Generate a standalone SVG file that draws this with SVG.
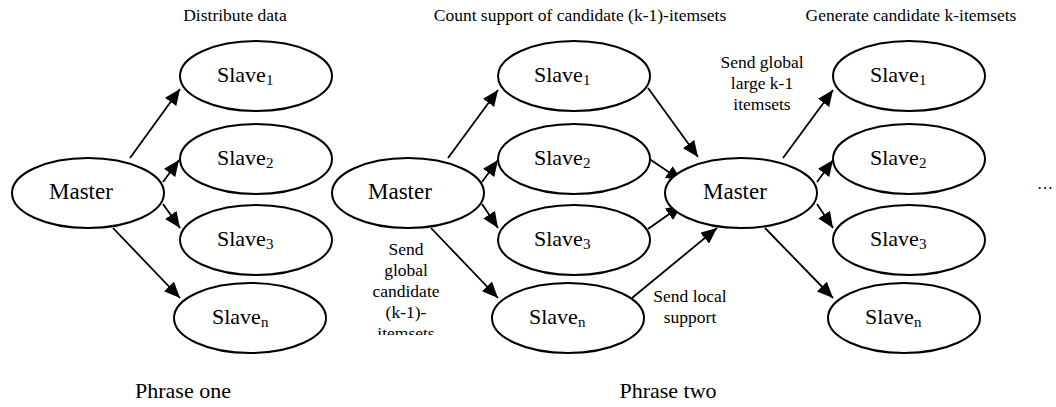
<svg xmlns="http://www.w3.org/2000/svg" width="1056" height="407" viewBox="0 0 1056 407">
<style>
  .node { fill: #fff; stroke: #000; stroke-width: 2; }
  .lbl { font-family: "Liberation Serif", "Times New Roman", serif; fill: #000; }
  .big { font-size: 22px; }
  .mst { font-size: 23px; }
  .sub { font-size: 15px; }
  .small { font-size: 17.5px; }
  .edge { stroke: #000; stroke-width: 1.8; fill: none; marker-end: url(#arr); }
</style>
<defs>
  <marker id="arr" markerUnits="userSpaceOnUse" markerWidth="17" markerHeight="14" refX="16" refY="7" orient="auto">
    <path d="M0,0 L16,7 L0,14 z" fill="#000"/>
  </marker>
  <clipPath id="clipSend"><rect x="340" y="230" width="140" height="105"/></clipPath>
</defs>
<rect width="1056" height="407" fill="#fff"/>

<!-- Headers -->
<text class="lbl small" x="235" y="21" text-anchor="middle">Distribute data</text>
<text class="lbl small" x="580" y="21" text-anchor="middle">Count support of candidate (k-1)-itemsets</text>
<text class="lbl small" x="911" y="21" text-anchor="middle">Generate candidate k-itemsets</text>

<!-- Connectors -->
<g id="connectors">
  <line class="edge" x1="130" y1="158" x2="180" y2="89"/>
  <line class="edge" x1="163" y1="182" x2="179" y2="160"/>
  <line class="edge" x1="163" y1="204" x2="180" y2="228"/>
  <line class="edge" x1="113" y1="228" x2="180" y2="298"/>

  <line class="edge" x1="448" y1="158" x2="498" y2="90"/>
  <line class="edge" x1="482" y1="182" x2="498" y2="160"/>
  <line class="edge" x1="482" y1="204" x2="498" y2="228"/>
  <line class="edge" x1="431" y1="228" x2="498" y2="298"/>

  <line class="edge" x1="648" y1="88" x2="698" y2="157"/>
  <line class="edge" x1="648" y1="158" x2="682" y2="181"/>
  <line class="edge" x1="648" y1="229" x2="682" y2="205"/>
  <line class="edge" x1="632" y1="298" x2="717" y2="228"/>

  <line class="edge" x1="783" y1="158" x2="833" y2="90"/>
  <line class="edge" x1="817" y1="182" x2="833" y2="160"/>
  <line class="edge" x1="817" y1="204" x2="833" y2="228"/>
  <line class="edge" x1="765" y1="228" x2="833" y2="298"/>
</g>

<!-- Phase one -->
<g id="master1"><ellipse class="node" cx="88" cy="193" rx="76" ry="35"/><text class="lbl mst" x="49" y="199">Master</text></g>
<g id="p1slave1"><ellipse class="node" cx="256" cy="76" rx="76" ry="35"/><text class="lbl big" x="217" y="82">Slave<tspan class="sub" dy="3">1</tspan></text></g>
<g id="p1slave2"><ellipse class="node" cx="256" cy="159" rx="76" ry="35"/><text class="lbl big" x="217" y="165">Slave<tspan class="sub" dy="3">2</tspan></text></g>
<g id="p1slave3"><ellipse class="node" cx="256" cy="240" rx="76" ry="35"/><text class="lbl big" x="217" y="246">Slave<tspan class="sub" dy="3">3</tspan></text></g>
<g id="p1slaven"><ellipse class="node" cx="250" cy="318" rx="76" ry="35"/><text class="lbl big" x="212" y="324">Slave<tspan class="sub" dy="3">n</tspan></text></g>

<!-- Phase two -->
<g id="master2"><ellipse class="node" cx="408" cy="193" rx="76" ry="35"/><text class="lbl mst" x="368" y="199">Master</text></g>
<g id="p2slave1"><ellipse class="node" cx="574" cy="76" rx="76" ry="35"/><text class="lbl big" x="534" y="82">Slave<tspan class="sub" dy="3">1</tspan></text></g>
<g id="p2slave2"><ellipse class="node" cx="574" cy="159" rx="76" ry="35"/><text class="lbl big" x="534" y="165">Slave<tspan class="sub" dy="3">2</tspan></text></g>
<g id="p2slave3"><ellipse class="node" cx="574" cy="240" rx="76" ry="35"/><text class="lbl big" x="534" y="246">Slave<tspan class="sub" dy="3">3</tspan></text></g>
<g id="p2slaven"><ellipse class="node" cx="568" cy="318" rx="76" ry="35"/><text class="lbl big" x="529" y="324">Slave<tspan class="sub" dy="3">n</tspan></text></g>

<g id="master3"><ellipse class="node" cx="741" cy="193" rx="76" ry="35"/><text class="lbl mst" x="703" y="199">Master</text></g>
<g id="p3slave1"><ellipse class="node" cx="909" cy="76" rx="76" ry="35"/><text class="lbl big" x="870" y="82">Slave<tspan class="sub" dy="3">1</tspan></text></g>
<g id="p3slave2"><ellipse class="node" cx="909" cy="159" rx="76" ry="35"/><text class="lbl big" x="870" y="165">Slave<tspan class="sub" dy="3">2</tspan></text></g>
<g id="p3slave3"><ellipse class="node" cx="909" cy="240" rx="76" ry="35"/><text class="lbl big" x="870" y="246">Slave<tspan class="sub" dy="3">3</tspan></text></g>
<g id="p3slaven"><ellipse class="node" cx="904" cy="318" rx="76" ry="35"/><text class="lbl big" x="865" y="324">Slave<tspan class="sub" dy="3">n</tspan></text></g>

<!-- Edge labels -->
<g id="lbl-send-global-large">
  <text class="lbl small" text-anchor="middle" x="762" y="68">Send global</text>
  <text class="lbl small" text-anchor="middle" x="762" y="89">large k-1</text>
  <text class="lbl small" text-anchor="middle" x="762" y="110">itemsets</text>
</g>
<g id="lbl-send-global-candidate" clip-path="url(#clipSend)">
  <text class="lbl small" text-anchor="middle" x="406" y="255">Send</text>
  <text class="lbl small" text-anchor="middle" x="406" y="276">global</text>
  <text class="lbl small" text-anchor="middle" x="406" y="297">candidate</text>
  <text class="lbl small" text-anchor="middle" x="406" y="318">(k-1)-</text>
  <text class="lbl small" text-anchor="middle" x="406" y="339">itemsets</text>
</g>
<g id="lbl-send-local">
  <text class="lbl small" text-anchor="middle" x="690" y="302">Send local</text>
  <text class="lbl small" text-anchor="middle" x="690" y="323">support</text>
</g>

<text class="lbl" font-size="16" x="1037" y="189">…</text>

<text class="lbl big" x="183" y="398" text-anchor="middle">Phrase one</text>
<text class="lbl big" x="668" y="398" text-anchor="middle">Phrase two</text>
</svg>
